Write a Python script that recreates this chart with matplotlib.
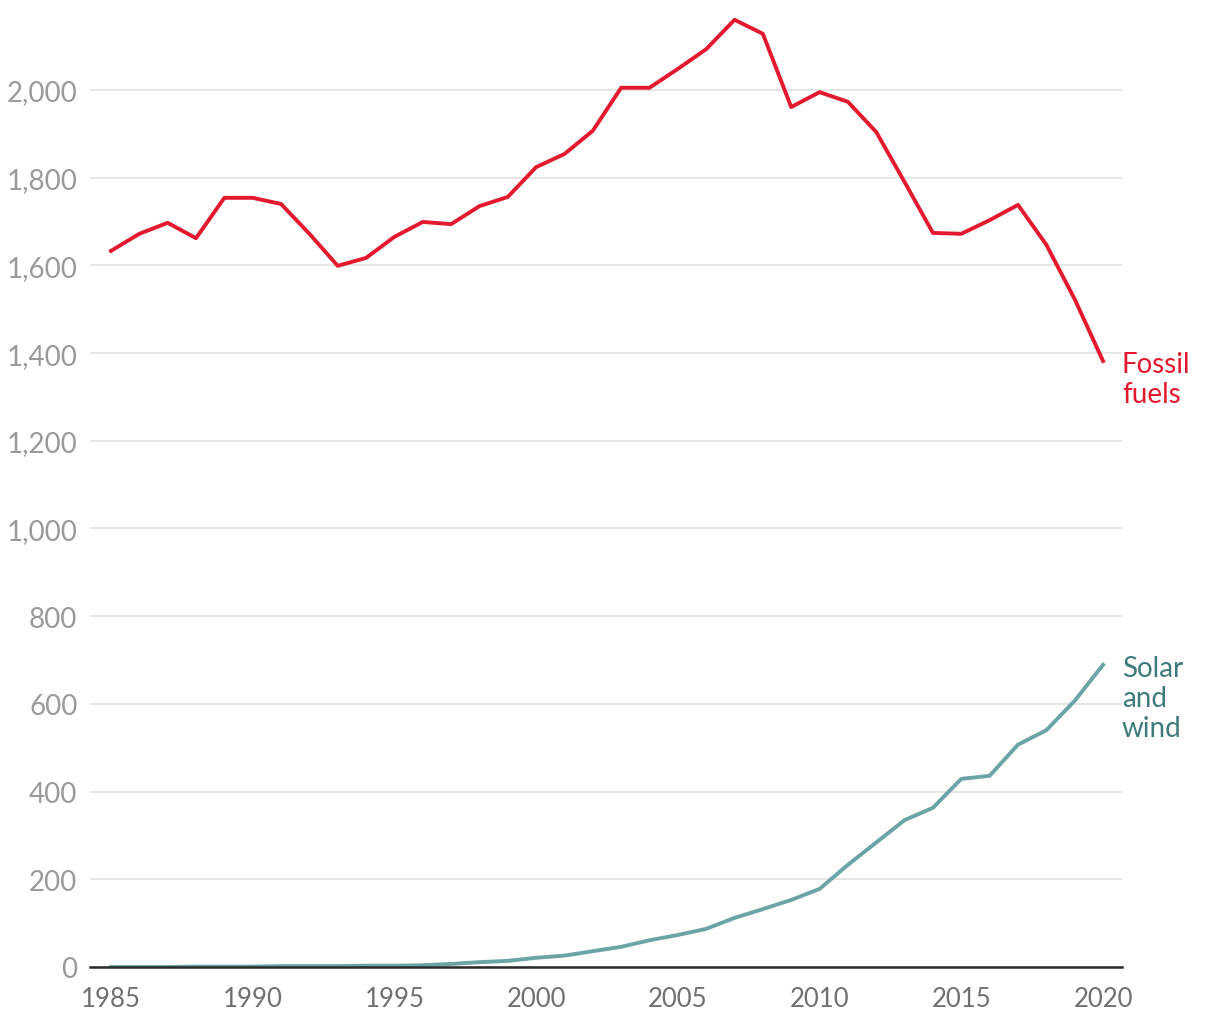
import matplotlib
matplotlib.use('Agg')
import matplotlib.pyplot as plt

years = list(range(1985, 2021))
fossil = [1633, 1672, 1697, 1662, 1754, 1754, 1740, 1672, 1599, 1617,
          1665, 1699, 1694, 1735, 1756, 1824, 1854, 1907, 2005, 2005,
          2048, 2093, 2160, 2128, 1961, 1995, 1973, 1904, 1790, 1674,
          1672, 1703, 1738, 1647, 1523, 1382]
solar_wind = [0, 0, 0, 1, 1, 1, 2, 2, 2, 3,
              3, 4, 7, 11, 14, 21, 26, 36, 46, 61,
              73, 87, 112, 132, 153, 178, 233, 284, 335, 363,
              429, 436, 507, 540, 607, 689]
y_ticks = [0, 200, 400, 600, 800, 1000, 1200, 1400, 1600, 1800, 2000]
x_ticks = [1985, 1990, 1995, 2000, 2005, 2010, 2015, 2020]

plt.rcParams['font.family'] = ['Lato', 'DejaVu Sans']

fig = plt.figure(figsize=(12.2, 10.2), dpi=100)
ax = fig.add_axes([90 / 1220, 52 / 1020, 1032 / 1220, 963 / 1020])

ax.plot(years, fossil, color='#e3192f', lw=2.8, zorder=3)
ax.plot(years, solar_wind, color='#6aa4a5', lw=2.8, zorder=3)

ax.set_xlim(1984.26, 2020.67)
ax.set_ylim(0, 2196)
ax.set_yticks(y_ticks)
ax.set_yticklabels([f'{v:,}' for v in y_ticks])
ax.set_xticks(x_ticks)

ax.grid(axis='y', color='#e3e3e3', lw=1.3, zorder=0)
ax.grid(axis='x', visible=False)
for s in ['top', 'right', 'left']:
    ax.spines[s].set_visible(False)
ax.spines['bottom'].set_color('#2b2b2b')
ax.spines['bottom'].set_linewidth(1.8)
ax.spines['bottom'].set_zorder(4)

ax.tick_params(axis='y', length=0, pad=9, labelsize=20, labelcolor='#9a9a9a')
ax.tick_params(axis='x', length=0, pad=14, labelsize=18.5, labelcolor='#707070')

ax.text(1.0, 1341, 'Fossil\nfuels', transform=ax.get_yaxis_transform(),
        color='#e3192f', fontsize=20, va='center', ha='left', linespacing=1.2)
ax.text(1.0, 613, 'Solar\nand\nwind', transform=ax.get_yaxis_transform(),
        color='#3f7b7b', fontsize=20, va='center', ha='left', linespacing=1.2)

plt.savefig('out.png', dpi=100)
